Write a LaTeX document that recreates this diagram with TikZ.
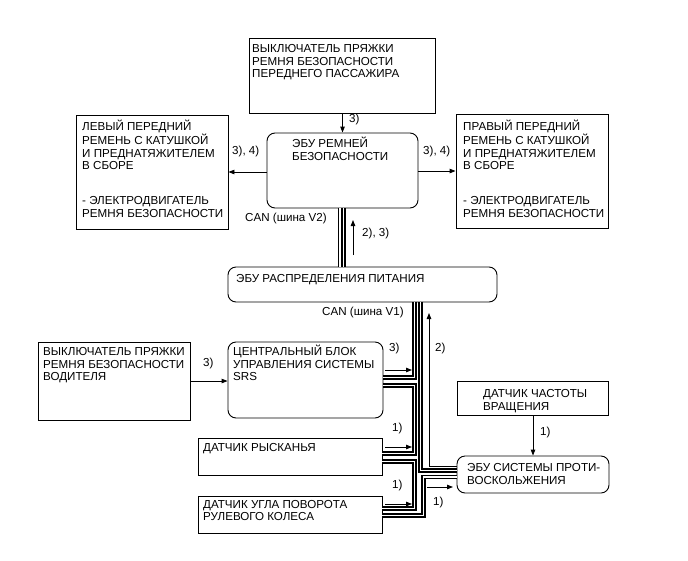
\documentclass[tikz,border=0pt]{standalone}
\usepackage{fontspec}
\setmainfont{Liberation Sans}
\usetikzlibrary{arrows.meta}
\newcommand\myTop{\rule{0pt}{11pt}}
\begin{document}
\begin{tikzpicture}[x=1pt,y=-1pt,
  box/.style={draw, line width=0.9pt, inner sep=0pt},
  rbox/.style={box, rounded corners=8pt},
  txt/.style={anchor=north west, inner sep=0pt, align=left, font=\fontsize{11.6pt}{12.5pt}\selectfont},
  lbl/.style={anchor=west, inner sep=0pt, font=\fontsize{11.6pt}{12.5pt}\selectfont},
  arr/.style={-{Triangle[length=6pt,width=4.5pt]}, line width=0.9pt},
  bus/.style={line width=1.1pt, double=white, double distance=1.9pt}]
\useasboundingbox[fill=white] (0,0) rectangle (688,560);

% boxes
\node[box, minimum width=186pt, minimum height=75pt] (sw1) at (342,75.5) {};
\node[rbox, minimum width=151pt, minimum height=75pt] (ecu1) at (342.5,170.5) {};
\node[box, minimum width=152pt, minimum height=114pt] (lb) at (152,172) {};
\node[box, minimum width=152pt, minimum height=114pt] (rb) at (532,171) {};
\node[rbox, minimum width=269pt, minimum height=35pt] (pw) at (362.5,284.5) {};
\node[box, minimum width=152pt, minimum height=78pt] (drv) at (114,381) {};
\node[rbox, minimum width=155pt, minimum height=76pt] (srs) at (305.5,380) {};
\node[box, minimum width=151pt, minimum height=34pt] (spd) at (533,398) {};
\node[rbox, minimum width=152pt, minimum height=37pt] (abs) at (533,474.5) {};
\node[box, minimum width=184pt, minimum height=37pt] (yaw) at (290,456.5) {};
\node[box, minimum width=184pt, minimum height=37pt] (steer) at (290,514.5) {};

% texts
\node[txt] (sw1t) at (252,41.5) {\myTop ВЫКЛЮЧАТЕЛЬ ПРЯЖКИ\\РЕМНЯ БЕЗОПАСНОСТИ\\ПЕРЕДНЕГО ПАССАЖИРА};
\node[txt] (ecu1t) at (292,136.6) {\myTop ЭБУ РЕМНЕЙ\\БЕЗОПАСНОСТИ};
\node[txt] (lbt) at (82,119.6) {\myTop ЛЕВЫЙ ПЕРЕДНИЙ\\РЕМЕНЬ С КАТУШКОЙ\\И ПРЕДНАТЯЖИТЕЛЕМ\\В СБОРЕ\\[22.5pt]- ЭЛЕКТРОДВИГАТЕЛЬ\\РЕМНЯ БЕЗОПАСНОСТИ};
\node[txt] (rbt) at (463,119.6) {\myTop ПРАВЫЙ ПЕРЕДНИЙ\\РЕМЕНЬ С КАТУШКОЙ\\И ПРЕДНАТЯЖИТЕЛЕМ\\В СБОРЕ\\[22.5pt]- ЭЛЕКТРОДВИГАТЕЛЬ\\РЕМНЯ БЕЗОПАСНОСТИ};
\node[txt] (pwt) at (236,271.6) {\myTop ЭБУ РАСПРЕДЕЛЕНИЯ ПИТАНИЯ};
\node[txt] (drvt) at (43,344.6) {\myTop ВЫКЛЮЧАТЕЛЬ ПРЯЖКИ\\РЕМНЯ БЕЗОПАСНОСТИ\\ВОДИТЕЛЯ};
\node[txt] (srst) at (233,344.6) {\myTop ЦЕНТРАЛЬНЫЙ БЛОК\\УПРАВЛЕНИЯ СИСТЕМЫ\\SRS};
\node[txt] (spdt) at (483,386.6) {\myTop ДАТЧИК ЧАСТОТЫ\\ВРАЩЕНИЯ};
\node[txt] (abst) at (467,460.6) {\myTop ЭБУ СИСТЕМЫ ПРОТИ-\\ВОСКОЛЬЖЕНИЯ};
\node[txt] (yawt) at (203,440.6) {\myTop ДАТЧИК РЫСКАНЬЯ};
\node[txt] (steert) at (203,497.1) {\myTop ДАТЧИК УГЛА ПОВОРОТА\\РУЛЕВОГО КОЛЕСА};

% labels
\node[lbl] (l1) at (349,119) {3)};
\node[lbl] (l2) at (232,151) {3), 4)};
\node[lbl] (l3) at (423,151) {3), 4)};
\node[lbl] (canv2) at (245,218) {CAN (шина V2)};
\node[lbl] (l4) at (362,233) {2), 3)};
\node[lbl] (canv1) at (322,312) {CAN (шина V1)};
\node[lbl] (l5) at (435,348) {2)};
\node[lbl] (l6) at (389,348) {3)};
\node[lbl] (l7) at (203,363) {3)};
\node[lbl] (l8) at (540,432) {1)};
\node[lbl] (l9) at (392,428) {1)};
\node[lbl] (l10) at (392,485) {1)};
\node[lbl] (l11) at (433,502) {1)};

% helper coordinates
\coordinate (xV1) at (340.3,0);
\coordinate (xV2) at (343.5,0);
\coordinate (xA) at (414.5,0);
\coordinate (xE) at (420.5,0);
\coordinate (xD) at (423.5,0);
\coordinate (x2) at (429,0);
\coordinate (yA) at (0,377.5);
\coordinate (yB1) at (0,385.5);
\coordinate (yB2) at (0,453.5);
\coordinate (yC1) at (0,461.5);
\coordinate (yC2) at (0,508.5);
\coordinate (yD1) at (0,515.5);
\coordinate (yD2) at (0,477);
\coordinate (yE) at (0,470.5);
\coordinate (y2) at (0,466);
\coordinate (y2top) at (0,313);
\coordinate (aV1) at (353,255);
\coordinate (aV2) at (353,220);
\coordinate (aS1) at (385,370);
\coordinate (aS2) at (412,370);
\coordinate (aY1) at (385,447);
\coordinate (aY2) at (412,447);
\coordinate (aR1) at (385,504);
\coordinate (aR2) at (412,504);
\coordinate (aB1) at (427,487);
\coordinate (aB2) at (453,487);

% buses
\draw[bus] (ecu1.south -| xV1) -- (pw.north -| xV1);
\draw[bus] (ecu1.south -| xV2) -- (pw.north -| xV2);
\draw[bus] (pw.south -| xA) -- (xA |- yA) -- (srs.east |- yA);
\draw[bus] (srs.east |- yB1) -- (xA |- yB1) -- (xA |- yB2) -- (yaw.east |- yB2);
\draw[bus] (yaw.east |- yC1) -- (xA |- yC1) -- (xA |- yC2) -- (steer.east |- yC2);
\draw[bus] (steer.east |- yD1) -- (xD |- yD1) -- (xD |- yD2) -- (abs.west |- yD2);
\draw[bus] (pw.south -| xE) -- (xE |- yE) -- (abs.west |- yE);

% arrows
\draw[arr] (sw1.south -| ecu1.north) -- (ecu1.north);
\draw[arr] (ecu1.west |- lb.east) -- (lb.east);
\draw[arr] (ecu1.east |- rb.west) -- (rb.west);
\draw[arr] (drv.east) -- (srs.west |- drv.east);
\draw[arr] (spd.south) -- (abs.north);
\draw[arr] (abs.west |- y2) -- (x2 |- y2) -- (x2 |- y2top);
\draw[arr] (aV1) -- (aV2);
\draw[arr] (aS1) -- (aS2);
\draw[arr] (aY1) -- (aY2);
\draw[arr] (aR1) -- (aR2);
\draw[arr] (aB1) -- (aB2);
\end{tikzpicture}
\end{document}
